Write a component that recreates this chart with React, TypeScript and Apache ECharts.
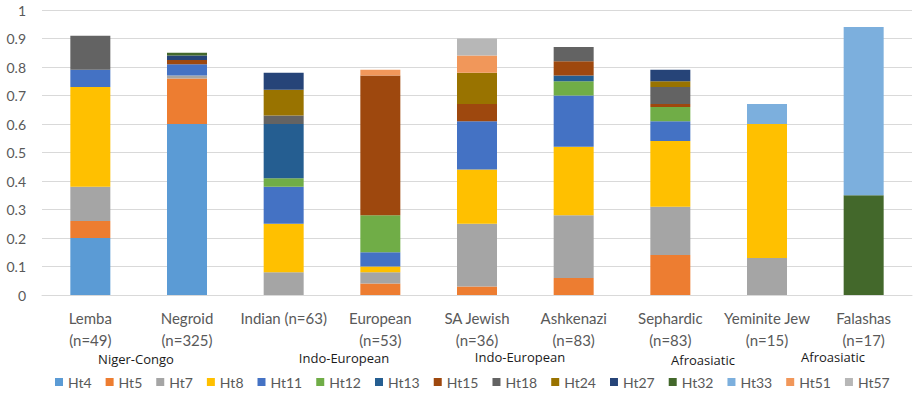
import React, { useEffect, useRef } from "react";
import * as echarts from "echarts";

// Populations (x axis)
const categories = [
  "Lemba\n(n=49)",
  "Negroid\n(n=325)",
  "Indian (n=63)",
  "European\n(n=53)",
  "SA Jewish\n(n=36)",
  "Ashkenazi\n(n=83)",
  "Sephardic\n(n=83)",
  "Yeminite Jew\n(n=15)",
  "Falashas\n(n=17)",
];

// Haplotype frequencies per population, in category order
const ht4 = [0.2, 0.6, 0, 0, 0, 0, 0, 0, 0];
const ht5 = [0.06, 0.16, 0, 0.04, 0.03, 0.06, 0.14, 0, 0];
const ht7 = [0.12, 0.01, 0.08, 0.04, 0.22, 0.22, 0.17, 0.13, 0];
const ht8 = [0.35, 0, 0.17, 0.02, 0.19, 0.24, 0.23, 0.47, 0];
const ht11 = [0.06, 0.04, 0.13, 0.05, 0.17, 0.18, 0.07, 0, 0];
const ht12 = [0, 0, 0.03, 0.13, 0, 0.05, 0.05, 0, 0];
const ht13 = [0, 0, 0.19, 0, 0, 0.02, 0, 0, 0];
const ht15 = [0, 0.015, 0, 0.49, 0.06, 0.05, 0.01, 0, 0];
const ht18 = [0.12, 0, 0.03, 0, 0, 0.05, 0.06, 0, 0];
const ht24 = [0, 0, 0.09, 0, 0.11, 0, 0.02, 0, 0];
const ht27 = [0, 0.015, 0.06, 0, 0, 0, 0.04, 0, 0];
const ht32 = [0, 0.01, 0, 0, 0, 0, 0, 0, 0.35];
const ht33 = [0, 0, 0, 0, 0, 0, 0, 0.07, 0.59];
const ht51 = [0, 0, 0, 0.02, 0.06, 0, 0, 0, 0];
const ht57 = [0, 0, 0, 0, 0.06, 0, 0, 0, 0];

const seriesNames = [
  "Ht4", "Ht5", "Ht7", "Ht8", "Ht11", "Ht12", "Ht13", "Ht15",
  "Ht18", "Ht24", "Ht27", "Ht32", "Ht33", "Ht51", "Ht57",
];
const seriesData = [
  ht4, ht5, ht7, ht8, ht11, ht12, ht13, ht15,
  ht18, ht24, ht27, ht32, ht33, ht51, ht57,
];
const seriesColors = [
  "#5B9BD5", "#ED7D31", "#A5A5A5", "#FFC000", "#4472C4", "#70AD47",
  "#255E91", "#9E480E", "#636363", "#997300", "#264478", "#43682B",
  "#7CAFDD", "#F1975A", "#B7B7B7",
];

// Language family annotations under the category labels
const familyLabels = ["Niger-Congo", "Indo-European", "Indo-European", "Afroasiatic", "Afroasiatic"];
const familyPositions: [number, number][] = [
  [136, 359],
  [344, 358],
  [520, 357],
  [703, 360],
  [833, 357],
];

const FONT = "Lato, 'Open Sans', sans-serif";

export default function App() {
  const ref = useRef<HTMLDivElement>(null);

  useEffect(() => {
    if (!ref.current) return;
    const chart = echarts.init(ref.current, undefined, { renderer: "svg" });
    chart.setOption({
      animation: false,
      backgroundColor: "#ffffff",
      grid: { left: 42, right: 10, top: 10, bottom: 111, containLabel: false },
      legend: {
        top: 370,
        left: 50,
        itemWidth: 8,
        itemHeight: 8,
        itemGap: 14,
        icon: "rect",
        textStyle: { color: "#595959", fontSize: 14, fontFamily: FONT },
        data: seriesNames,
      },
      xAxis: {
        type: "category",
        data: categories,
        axisTick: { show: false },
        axisLine: { lineStyle: { color: "#D9D9D9" } },
        axisLabel: {
          color: "#595959",
          fontSize: 15,
          fontFamily: FONT,
          lineHeight: 22,
          margin: 12,
          interval: 0,
        },
      },
      yAxis: {
        type: "value",
        min: 0,
        max: 1,
        interval: 0.1,
        axisLine: { show: false },
        axisTick: { show: false },
        splitLine: { lineStyle: { color: "#D9D9D9" } },
        axisLabel: {
          color: "#595959",
          fontSize: 14,
          fontFamily: FONT,
          margin: 16,
          formatter: (v: number) => String(Math.round(v * 10) / 10),
        },
      },
      graphic: familyLabels.map((t, i) => ({
        type: "text",
        x: familyPositions[i][0],
        y: familyPositions[i][1],
        style: {
          text: t,
          fill: "#1a1a1a",
          font: "13px 'Open Sans', sans-serif",
          lineHeight: 12,
          textAlign: "center",
          textVerticalAlign: "middle",
        },
      })),
      series: seriesNames.map((name, i) => ({
        name,
        type: "bar",
        stack: "total",
        barWidth: 40,
        data: seriesData[i],
        itemStyle: { color: seriesColors[i] },
      })),
    });
    return () => chart.dispose();
  }, []);

  return (
    <div
      ref={ref}
      style={{ position: "absolute", left: 0, top: 0, width: 922, height: 406 }}
    />
  );
}
